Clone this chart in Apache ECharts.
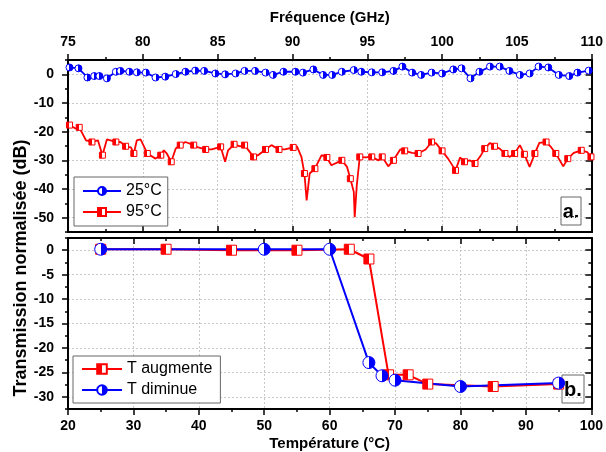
<!DOCTYPE html>
<html><head><meta charset="utf-8">
<script src="https://cdn.jsdelivr.net/npm/echarts@6/dist/echarts.min.js"></script>
<style>html,body{margin:0;padding:0;background:#fff}#c{width:606px;height:452px}</style>
</head><body><div id="c"></div>
<script>
// ---- Panel a: transmission vs frequency ----
const freq25 = [75.1,75.7,76.3,76.75,77.1,77.6,78.2,78.5,79.1,79.6,80.2,80.85,81.5,82.2,82.85,83.5,84.1,84.85,85.5,86.2,86.8,87.5,88.2,88.7,89.4,90.2,90.7,91.4,92.05,92.65,93.3,94.1,94.6,95.3,96.0,96.75,97.35,98.0,98.6,99.3,100.0,100.75,101.3,101.9,102.5,103.2,103.85,104.5,105.2,105.85,106.45,107.1,107.8,108.5,109.05,109.8];
const trans25 = [2.4,2.1,-1.1,-0.6,-0.6,-1.4,0.9,1.2,0.9,0.7,0.6,-1.1,-0.8,0.1,0.9,1.3,1.2,0.3,0,0.3,1.2,1.2,0.6,-0.2,0.9,0.9,0.6,1.7,-0.2,-0.2,0.9,1.5,0.9,0.7,0.7,1.2,2.7,0.6,-0.2,0.6,0.3,1.7,2.1,-1.4,0.9,2.7,2.7,1.2,-0.2,0.3,2.7,2.4,-0.2,-0.6,0.6,1.3];
const freq95 = [75.1,75.5,75.75,76.2,76.6,77.0,77.3,77.6,78.2,78.5,78.85,79.2,79.4,79.6,79.85,80.3,80.85,81.2,81.4,81.6,81.9,82.2,82.5,82.85,83.4,83.7,84.2,84.6,85.2,85.5,85.7,86.1,86.5,86.8,87.4,87.7,88.2,88.6,89.1,89.5,90.05,90.3,90.6,90.8,90.95,91.15,91.5,91.95,92.3,92.6,93.3,93.65,93.87,94.1,94.16,94.3,94.5,94.87,95.3,95.75,96.0,96.4,96.75,97.2,97.5,98.0,98.4,98.9,99.3,99.6,100.0,100.4,100.9,101.2,101.5,101.85,102.2,102.6,102.85,103.2,103.5,103.85,104.2,104.5,104.85,105.2,105.5,105.85,106.2,106.5,106.95,107.3,107.6,108.1,108.4,108.8,109.3,109.7,109.95];
const trans95 = [-17.7,-18.9,-18.5,-23.0,-23.6,-23.0,-28.2,-22.7,-23.6,-23.6,-25.1,-25.5,-27.6,-23.0,-22.7,-27.6,-29.4,-28.2,-26.5,-27.6,-30.5,-25.9,-24.7,-23.6,-24.7,-25.5,-26.2,-26.2,-25.3,-30.5,-26.5,-24.4,-25.1,-24.7,-28.8,-28.2,-26.2,-24.7,-26.2,-26.2,-25.5,-25.1,-28.8,-34.6,-44.0,-34.6,-32.9,-28.2,-29.0,-31.7,-30.0,-32.3,-36.4,-41.0,-49.8,-38.7,-28.8,-29.0,-28.8,-30.0,-28.8,-32.1,-30.0,-26.2,-26.7,-27.4,-27.6,-26.2,-23.6,-24.1,-26.7,-29.4,-33.5,-29.0,-30.5,-30.0,-31.1,-28.2,-25.9,-23.9,-25.1,-25.9,-27.6,-28.8,-27.6,-24.7,-27.9,-32.3,-27.6,-23.9,-23.6,-25.5,-27.6,-32.1,-29.4,-27.4,-26.5,-27.1,-28.8];
// ---- Panel b: transmission vs temperature ----
const tempUp = [25,35,45,55,63,66,69,72,75,85,95];
const transUp = [0.2,0.2,0.0,0.0,0.2,-1.8,-25.5,-25.5,-27.4,-27.9,-27.4];
const tempDown = [25,50,60,66,68,70,80,95];
const transDown = [0.2,0.2,0.2,-23.0,-25.7,-26.6,-27.9,-27.2];
// tick labels
const ticksA = [-50,-40,-30,-20,-10,0];
const ticksB = [-30,-25,-20,-15,-10,-5,0];

const pairs = (xs, ys) => xs.map((x, i) => [x, ys[i]]);
const F = '"Liberation Sans", Arial, sans-serif';
function half(color, leftFilled) {
  const a = leftFilled ? color : '#fff', b = leftFilled ? '#fff' : color;
  return new echarts.graphic.LinearGradient(0, 0, 1, 0, [
    {offset: 0, color: a}, {offset: 0.5, color: a}, {offset: 0.5, color: b}, {offset: 1, color: b}]);
}
// show a marker only every ~0.55 GHz along the dense trace (display thinning only)
const shown95 = new Set();
(function () { let last = -Infinity; freq95.forEach((f, i) => { if (f - last >= 0.55) { shown95.add(i); last = f; } }); })();

const aLine = {show: true, onZero: false, lineStyle: {color: '#000', width: 2}};
const tickMaj = (inside) => ({show: true, inside, length: 6, lineStyle: {color: '#000', width: 1.5}});
const tickMin = (inside) => ({show: true, inside, length: 3, lineStyle: {color: '#000', width: 1.5}});
const lab = {color: '#000', fontFamily: F, fontWeight: 'bold', fontSize: 14};
const dash = {show: true, lineStyle: {color: '#c8c8c8', type: [2, 2], width: 1}};
const noLab = {show: false};
const noSplit = {show: false};

function yPair(grid, pos, min, max, majors, minorInt, labels) {
  const inside = pos === 'right';
  return [
    {gridIndex: grid, type: 'value', position: pos, min, max, axisLine: aLine,
     axisTick: Object.assign(tickMaj(inside), {customValues: majors}),
     axisLabel: labels ? Object.assign({}, lab, {margin: 14, customValues: majors}) : noLab,
     splitLine: labels ? dash : noSplit},
    {gridIndex: grid, type: 'value', position: pos, min, max, interval: minorInt, axisLine: aLine,
     axisTick: tickMin(inside), axisLabel: noLab, splitLine: noSplit}
  ];
}

const chart = echarts.init(document.getElementById('c'));
chart.setOption({
  animation: false,
  backgroundColor: '#fff',
  grid: [
    {left: 68, top: 60, width: 526, height: 172},
    {left: 68, top: 238, width: 526, height: 172}
  ],
  xAxis: [
    {gridIndex: 0, type: 'value', position: 'top', min: 75, max: 110, interval: 5, axisLine: aLine,
     axisTick: tickMaj(false), minorTick: Object.assign(tickMin(false), {splitNumber: 2}),
     axisLabel: Object.assign({}, lab, {margin: 11}), splitLine: dash,
     name: 'Fréquence (GHz)', nameLocation: 'middle', nameGap: 35,
     nameTextStyle: {color: '#000', fontFamily: F, fontWeight: 'bold', fontSize: 15}},
    {gridIndex: 0, type: 'value', position: 'bottom', min: 75, max: 110, interval: 5, axisLine: aLine,
     axisTick: tickMaj(true), minorTick: Object.assign(tickMin(true), {splitNumber: 2}),
     axisLabel: noLab, splitLine: noSplit},
    {gridIndex: 1, type: 'value', position: 'bottom', min: 20, max: 100, interval: 10, axisLine: aLine,
     axisTick: tickMaj(false), minorTick: Object.assign(tickMin(false), {splitNumber: 2}),
     axisLabel: Object.assign({}, lab, {margin: 10}), splitLine: dash,
     name: 'Température (°C)', nameLocation: 'middle', nameGap: 27,
     nameTextStyle: {color: '#000', fontFamily: F, fontWeight: 'bold', fontSize: 15}},
    {gridIndex: 1, type: 'value', position: 'top', min: 20, max: 100, interval: 10, axisLine: aLine,
     axisTick: tickMaj(true), minorTick: Object.assign(tickMin(true), {splitNumber: 2}),
     axisLabel: noLab, splitLine: noSplit}
  ],
  yAxis: [].concat(
    yPair(0, 'left', -55, 5, ticksA, 5, true),
    yPair(0, 'right', -55, 5, ticksA, 5, false),
    yPair(1, 'left', -32.5, 2.5, ticksB, 2.5, true),
    yPair(1, 'right', -32.5, 2.5, ticksB, 2.5, false)
  ),
  legend: [
    {data: ['25°C', '95°C'], orient: 'vertical', left: 74, top: 177, padding: [6, 6, 6, 8],
     itemWidth: 38, itemHeight: 10, itemGap: 5, borderColor: '#666', borderWidth: 1, backgroundColor: '#fff',
     textStyle: {color: '#000', fontFamily: F, fontSize: 16}},
    {data: ['T augmente', 'T diminue'], orient: 'vertical', left: 73, top: 356, padding: [5, 8, 5, 8],
     itemWidth: 40, itemHeight: 12, itemGap: 5, borderColor: '#666', borderWidth: 1, backgroundColor: '#fff',
     textStyle: {color: '#000', fontFamily: F, fontSize: 16}}
  ],
  graphic: [
    {type: 'group', children: [
      {type: 'rect', shape: {x: 561, y: 197, width: 20, height: 28}, style: {fill: '#fff', stroke: '#666', lineWidth: 1}},
      {type: 'text', x: 571, y: 212, style: {text: 'a.', fontFamily: F, fontWeight: 'bold', fontSize: 20, fill: '#000', align: 'center', verticalAlign: 'middle'}}
    ]},
    {type: 'group', children: [
      {type: 'rect', shape: {x: 562, y: 375, width: 22, height: 28}, style: {fill: '#fff', stroke: '#666', lineWidth: 1}},
      {type: 'text', x: 573, y: 390, style: {text: 'b.', fontFamily: F, fontWeight: 'bold', fontSize: 20, fill: '#000', align: 'center', verticalAlign: 'middle'}}
    ]},
    {type: 'text', x: 21, y: 268, rotation: Math.PI / 2,
     style: {text: 'Transmission normalisée (dB)', fontFamily: F, fontWeight: 'bold', fontSize: 18, fill: '#000', align: 'center', verticalAlign: 'middle'}}
  ],
  series: [
    {name: '95°C', type: 'line', xAxisIndex: 0, yAxisIndex: 0, data: pairs(freq95, trans95),
     symbol: 'rect', symbolSize: (v, p) => shown95.has(p.dataIndex) ? 6 : 0, showAllSymbol: true,
     lineStyle: {color: '#ff0000', width: 1.8},
     itemStyle: {color: half('#ff0000', true), borderColor: '#ff0000', borderWidth: 1}},
    {name: '25°C', type: 'line', xAxisIndex: 0, yAxisIndex: 0, data: pairs(freq25, trans25),
     symbol: 'circle', symbolSize: 7, lineStyle: {color: '#0000ff', width: 1.8},
     itemStyle: {color: half('#0000ff', false), borderColor: '#0000ff', borderWidth: 1}},
    {name: 'T augmente', type: 'line', xAxisIndex: 2, yAxisIndex: 4, data: pairs(tempUp, transUp),
     symbol: 'rect', symbolSize: 10, lineStyle: {color: '#ff0000', width: 2},
     itemStyle: {color: half('#ff0000', true), borderColor: '#ff0000', borderWidth: 1}},
    {name: 'T diminue', type: 'line', xAxisIndex: 2, yAxisIndex: 4, data: pairs(tempDown, transDown),
     symbol: 'circle', symbolSize: 12, lineStyle: {color: '#0000ff', width: 2},
     itemStyle: {color: half('#0000ff', false), borderColor: '#0000ff', borderWidth: 1}}
  ]
});
</script></body></html>
